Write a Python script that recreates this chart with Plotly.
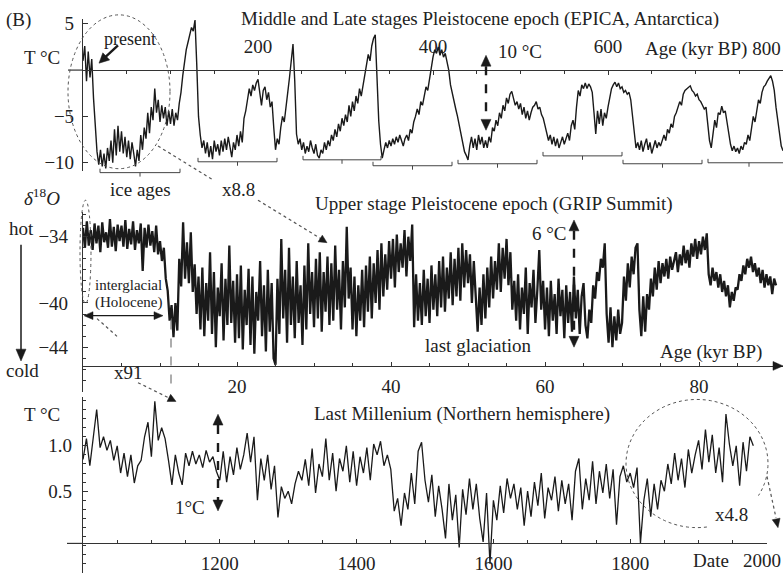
import numpy as np
import plotly.graph_objects as go

W, H = 783, 576
FONT = "Liberation Serif"
INK = "#1a1a1a"
GREY = "#555555"

# ---------------- data ----------------
# EPICA (Antarctica) temperature anomaly, one value every 2 kyr from 0 to 800 kyr BP
EPICA_STEP_KYR = 2
EPICA_T = [
    1.0, 2.6, -1.2, 2.0, -0.8, 1.2, -3.0, -6.4, -8.8, -10.2,
    -8.6, -10.4, -9.0, -10.6, -8.4, -9.8, -7.6, -10.0, -6.4, -9.2,
    -6.0, -8.8, -6.6, -9.0, -7.2, -9.4, -7.6, -9.6, -7.8, -9.0,
    -10.4, -8.6, -9.8, -7.0, -8.6, -6.2, -7.4, -4.6, -6.8, -4.0,
    -5.4, -2.0, -4.6, -3.2, -5.6, -3.8, -5.2, -4.0, -6.0, -4.4,
    -5.8, -4.2, -6.0, -4.6, -5.4, -3.6, -2.4, -0.6, 1.0, 2.2,
    3.0, 3.8, 4.6, 4.2, 5.4, 0.6, -5.0, -7.0, -8.4, -7.6,
    -9.0, -7.8, -9.4, -8.2, -9.6, -7.6, -8.8, -8.0, -9.2, -7.6,
    -8.8, -7.4, -8.6, -7.2, -8.4, -9.4, -7.8, -8.6, -7.0, -8.2,
    -6.6, -7.8, -5.2, -4.4, -3.2, -2.0, -2.8, -1.6, -2.2, -1.4,
    -1.0, -2.6, -3.8, -2.2, -1.8, -3.2, -2.4, -4.0, -3.4, -6.2,
    -8.6, -7.4, -8.0, -6.2, -5.0, -5.6, -3.6, -2.4, -0.8, 1.0,
    2.8, -1.2, -6.9, -8.0, -7.4, -8.6, -7.8, -9.0, -8.2, -8.8,
    -7.6, -8.4, -9.0, -8.0, -9.2, -9.5, -8.6, -9.0, -7.8, -8.6,
    -7.6, -8.2, -7.0, -7.6, -6.4, -7.2, -5.8, -6.6, -5.2, -6.0,
    -4.8, -5.6, -3.8, -5.0, -3.4, -4.4, -2.8, -3.6, -2.0, -2.8,
    -1.6, -0.6, 0.6, 1.7, 1.0, 2.6, 3.4, 3.8, -0.8, -5.5,
    -8.0, -9.5, -8.6, -7.8, -8.4, -7.6, -8.2, -7.4, -8.0, -7.2,
    -7.8, -7.0, -7.6, -8.2, -7.4, -7.0, -7.6, -6.4, -6.8, -5.6,
    -5.0, -4.2, -4.8, -3.4, -3.8, -2.6, -1.8, -2.2, -0.8, 0.4,
    1.4, 2.2, 1.8, 2.5, 1.6, 2.2, 1.4, 1.8, 0.8, 0.0,
    -1.6, -2.6, -3.4, -4.2, -5.0, -6.0, -7.0, -7.8, -8.8, -9.2,
    -9.7, -8.2, -7.2, -8.4, -7.4, -8.6, -7.0, -8.0, -7.2, -8.4,
    -7.6, -8.4, -7.2, -7.8, -6.2, -6.6, -5.4, -6.0, -4.6, -5.2,
    -3.8, -4.4, -3.0, -3.6, -2.6, -2.3, -3.0, -3.8, -3.4, -4.2,
    -3.6, -4.8, -4.0, -5.2, -4.4, -5.4, -4.6, -4.0, -3.8, -3.4,
    -4.2, -4.0, -4.8, -5.2, -6.0, -6.9, -7.6, -7.0, -8.0, -7.2,
    -8.2, -7.4, -8.4, -7.8, -7.2, -8.0, -7.4, -6.8, -7.6, -6.0,
    -5.4, -6.4, -4.0, -2.2, -2.8, -1.6, -2.0, -1.4, -2.0, -1.5,
    -1.8, -2.4, -4.6, -6.9, -4.4, -5.8, -4.2, -6.0, -4.6, -5.2,
    -4.0, -3.0, -2.0, -1.6, -1.3, -1.8, -1.4, -2.0, -1.8, -2.4,
    -2.2, -2.6, -2.4, -3.2, -5.0, -7.0, -8.4, -7.8, -8.6, -7.6,
    -8.8, -8.0, -7.4, -8.6, -7.8, -9.0, -8.2, -7.6, -8.4, -7.8,
    -8.2, -7.6, -7.0, -7.6, -6.4, -6.8, -5.8, -6.2, -5.0, -4.6,
    -4.0, -3.4, -3.8, -2.6, -2.2, -2.0, -1.8, -1.7, -2.2, -2.4,
    -2.8, -2.6, -3.2, -3.4, -3.8, -4.2, -4.0, -5.6, -7.6, -8.4,
    -6.8, -5.4, -6.2, -4.6, -4.8, -3.9, -4.6, -4.4, -5.6, -7.0,
    -8.0, -8.7, -8.2, -8.8, -8.4, -9.0, -8.2, -8.6, -7.8, -8.0,
    -7.0, -7.6, -6.0, -5.0, -5.6, -4.2, -3.2, -3.6, -2.4, -1.8,
    -1.6, -1.2, -0.9, -0.6, -1.2, -2.2, -4.0, -5.6, -7.0, -8.2,
    -8.7,
]

# GRIP Summit delta-18O, one value every 0.25 kyr from 0 to 90 kyr BP
GRIP_STEP_KYR = 0.25
GRIP_D18O = [
    -33.2, -35.0, -32.6, -34.8, -33.4, -35.2, -32.8, -34.6, -33.0, -35.4, -32.7, -34.5, -33.6, -35.0, -32.4, -34.9, -33.1, -35.3, -32.9, -34.4,
    -33.0, -34.9, -32.5, -35.1, -33.3, -34.7, -32.6, -35.2, -33.4, -34.6, -32.8, -37.1, -33.2, -35.0, -32.9, -34.8, -33.5, -35.4, -33.0, -35.6,
    -34.4, -36.2, -35.0, -37.8, -38.9, -41.6, -40.2, -43.1, -40.0, -42.5, -36.0, -38.5, -32.7, -37.8, -34.5, -38.2, -33.6, -39.0, -36.5, -41.0,
    -37.6, -42.4, -36.8, -43.0, -38.2, -41.6, -35.4, -42.8, -37.2, -44.0, -38.6, -41.2, -36.4, -43.4, -37.8, -42.0, -34.8, -41.8, -38.0, -43.6,
    -37.4, -43.2, -36.6, -44.2, -38.8, -42.0, -36.9, -43.8, -37.6, -44.6, -39.0, -41.6, -36.2, -43.0, -38.4, -44.4, -37.0, -42.6, -38.2, -45.0,
    -45.6, -37.8, -42.8, -34.2, -41.4, -37.0, -43.6, -35.0, -42.0, -37.6, -43.2, -36.2, -41.8, -38.4, -43.8, -36.6, -42.4, -34.6, -41.0, -37.2,
    -42.2, -36.0, -41.4, -35.4, -42.6, -37.2, -40.8, -35.8, -42.0, -36.4, -41.6, -34.8, -40.6, -37.0, -42.4, -36.2, -40.4, -33.1, -39.6, -36.8,
    -42.4, -37.6, -43.0, -38.4, -41.6, -37.0, -42.2, -36.6, -40.8, -35.8, -41.4, -36.4, -40.0, -35.2, -40.6, -34.6, -39.4, -35.6, -38.8, -34.4,
    -37.8, -34.2, -38.6, -33.8, -37.2, -34.6, -36.8, -33.4, -37.6, -34.0, -36.2, -32.9, -42.2, -37.4, -41.6, -38.2, -42.0, -37.0, -41.2, -37.8,
    -41.8, -36.6, -40.6, -37.4, -41.2, -36.2, -40.4, -35.8, -40.8, -36.8, -39.6, -35.4, -40.2, -36.0, -39.4, -35.0, -39.8, -34.6, -38.6, -35.2,
    -38.2, -35.6, -40.0, -36.2, -39.4, -42.6, -38.6, -42.0, -37.4, -41.4, -36.8, -40.4, -35.8, -39.6, -36.2, -38.8, -34.6, -39.0, -35.0, -37.8,
    -34.2, -38.4, -35.4, -40.6, -38.0, -41.6, -37.4, -42.4, -38.6, -41.0, -36.8, -42.8, -38.2, -40.4, -37.0, -41.8, -38.8, -35.2, -40.6, -38.0,
    -42.4, -38.6, -43.0, -38.0, -41.6, -39.2, -42.8, -37.8, -41.2, -38.8, -43.2, -38.4, -41.8, -39.0, -42.6, -37.6, -41.4, -38.8, -42.8, -39.4,
    -38.2, -42.0, -43.2, -40.6, -41.8, -38.4, -39.6, -37.2, -38.0, -36.0, -36.8, -34.6, -41.0, -43.6, -40.4, -44.0, -41.2, -43.4, -40.6, -42.8,
    -41.8, -37.6, -39.8, -36.4, -38.6, -35.8, -37.4, -35.0, -34.6, -40.6, -43.0, -39.4, -42.6, -39.2, -40.6, -37.8, -39.4, -36.8, -38.8, -36.2,
    -38.2, -36.4, -37.6, -36.0, -37.8, -35.8, -37.0, -36.2, -35.4, -37.2, -35.6, -36.6, -34.8, -36.4, -35.2, -36.8, -34.6, -35.8, -34.2, -36.0,
    -34.4, -35.6, -34.0, -35.2, -33.7, -37.4, -38.4, -36.8, -38.0, -37.2, -38.6, -37.4, -39.0, -38.0, -39.4, -38.4, -40.4, -39.0, -39.8, -38.6,
    -38.8, -37.4, -38.0, -36.6, -37.4, -36.0, -36.8, -35.8, -37.2, -36.4, -37.6, -36.8, -38.2, -37.0, -38.6, -37.4, -38.4, -37.6, -39.2, -37.8,
    -38.4,
]

# Last millennium, Northern hemisphere temperature, every 5 years from AD 1000
MILL_START_YEAR = 1000
MILL_STEP_YEARS = 5
MILL_T = [
    0.85, 1.08, 0.78, 1.12, 1.40, 0.98, 1.10, 0.95, 1.06, 0.84,
    1.00, 0.70, 0.92, 0.66, 0.90, 0.59, 0.78, 0.84, 1.10, 1.26,
    0.88, 1.49, 1.06, 1.20, 1.08, 0.84, 0.57, 0.90, 0.70, 0.57,
    0.92, 0.78, 0.94, 0.80, 0.90, 0.76, 0.95, 0.82, 0.88, 0.72,
    0.62, 0.94, 0.60, 0.88, 0.68, 0.98, 0.74, 0.90, 1.14, 0.82,
    1.10, 0.40, 0.86, 0.62, 0.90, 0.52, 0.78, 0.21, 0.55, 0.42,
    0.50, 0.36, 0.58, 0.72, 0.62, 0.85, 0.56, 0.97, 0.48, 0.80,
    0.66, 1.08, 0.62, 0.92, 0.50, 0.86, 0.72, 1.00, 0.60, 0.94,
    0.56, 0.88, 0.70, 0.98, 0.62, 1.02, 0.90, 1.05, 0.78, 0.90,
    0.74, 0.28, 0.42, 0.12, 0.48, 0.30, 0.70, 0.36, 0.94, 1.04,
    0.62, 0.38, 0.68, 0.22, 0.56, 0.30, -0.02, 0.58, 0.18, 0.46,
    -0.12, 0.52, 0.24, 0.64, 0.30, 0.58, 0.20, -0.06, 0.48, -0.30,
    0.40, 0.18, 0.56, 0.26, 0.64, 0.42, 0.58, 0.30, 0.54, 0.12,
    0.50, 0.22, 0.60, 0.34, 0.70, 0.20, 0.54, 0.40, 0.66, 0.28,
    0.62, 0.36, 0.58, 0.18, 0.72, 0.86, 0.30, 0.64, 0.40, 0.83,
    0.36, 0.72, 0.48, 0.80, 0.42, 0.74, 0.13, 0.66, 0.78, 0.60,
    0.70, 0.54, 0.76, -0.07, 0.40, 0.64, 0.22, 0.58, 0.30, 0.62,
    0.50, 0.80, 0.58, 0.92, 0.62, 0.86, 0.54, 0.96, 0.70, 0.90,
    1.06, 0.74, 1.18, 0.82, 1.12, 0.70, 0.98, 0.60, 1.35, 1.02,
    0.78, 1.00, 0.56, 1.04, 0.72, 1.10, 1.00,
]

EPICA_XTICKS = [200, 400, 600]
EPICA_YTICKS = [5, -5, -10]
EPICA_YLABELS = ["5", "\u22125", "\u221210"]
GRIP_XTICKS = [20, 40, 60, 80]
GRIP_YTICKS = [-34, -40, -44]
GRIP_YLABELS = ["\u221234", "\u221240", "\u221244"]
MILL_XTICKS = [1200, 1400, 1600, 1800]
MILL_LAST_TICK = 2000
MILL_YTICKS = [1.0, 0.5]
MILL_YLABELS = ["1.0", "0.5"]

epica_age = np.arange(len(EPICA_T)) * EPICA_STEP_KYR
grip_age = np.arange(len(GRIP_D18O)) * GRIP_STEP_KYR
mill_year = MILL_START_YEAR + np.arange(len(MILL_T)) * MILL_STEP_YEARS


# ---------------- helpers (pixel -> paper) ----------------
def PX(x):
    return x / W


def PY(y):
    return 1 - y / H


shapes = []
annotations = []


def line(x0, y0, x1, y1, color=INK, width=1.0, dash="solid"):
    shapes.append(dict(type="line", xref="paper", yref="paper",
                       x0=PX(x0), y0=PY(y0), x1=PX(x1), y1=PY(y1),
                       line=dict(color=color, width=width, dash=dash)))


def head(tx, ty, fx, fy, length=9, half=4.5, color=INK):
    dx, dy = tx - fx, ty - fy
    n = np.hypot(dx, dy)
    ux, uy = dx / n, dy / n
    bx, by = tx - ux * length, ty - uy * length
    p1 = (bx - uy * half, by + ux * half)
    p2 = (bx + uy * half, by - ux * half)
    path = (f"M {PX(tx)},{PY(ty)} L {PX(p1[0])},{PY(p1[1])} "
            f"L {PX(p2[0])},{PY(p2[1])} Z")
    shapes.append(dict(type="path", xref="paper", yref="paper", path=path,
                       fillcolor=color, line=dict(color=color, width=0.5)))


def ellipse(x0, y0, x1, y1, color=GREY, dash="dot", width=1.0):
    shapes.append(dict(type="circle", xref="paper", yref="paper",
                       x0=PX(x0), y0=PY(y1), x1=PX(x1), y1=PY(y0),
                       line=dict(color=color, width=width, dash=dash)))


def text(t, x, y, size=19, xanchor="center", color="#222222"):
    annotations.append(dict(text=t, x=PX(x), y=PY(y), xref="paper", yref="paper",
                            xanchor=xanchor, yanchor="middle", showarrow=False,
                            font=dict(family=FONT, size=size, color=color)))


def bracket(x0, x1, y, drop=4):
    xm = (x0 + x1) / 2
    shapes.append(dict(type="path", xref="paper", yref="paper",
                       path=(f"M {PX(x0)},{PY(y - drop)} L {PX(x0)},{PY(y)} "
                             f"L {PX(x1)},{PY(y)} L {PX(x1)},{PY(y - drop)} "
                             f"M {PX(xm)},{PY(y)} L {PX(xm)},{PY(y + drop)}"),
                       line=dict(color="#444444", width=1.0)))


# ---------------- figure ----------------
fig = go.Figure()
fig.add_trace(go.Scatter(x=epica_age, y=EPICA_T, mode="lines",
                         line=dict(color=INK, width=1.4), xaxis="x", yaxis="y",
                         hoverinfo="skip"))
fig.add_trace(go.Scatter(x=grip_age, y=GRIP_D18O, mode="lines",
                         line=dict(color=INK, width=2.3), xaxis="x2", yaxis="y2",
                         hoverinfo="skip"))
fig.add_trace(go.Scatter(x=mill_year, y=MILL_T, mode="lines",
                         line=dict(color=INK, width=1.3), xaxis="x3", yaxis="y3",
                         hoverinfo="skip"))

tickfont = dict(family=FONT, size=19, color="#222222")
common_x = dict(showgrid=False, zeroline=False, showline=True, linecolor="#333333",
                linewidth=1.2, ticks="inside", ticklen=4, tickcolor="#333333",
                tickfont=tickfont, fixedrange=True)
common_y = dict(showgrid=False, zeroline=False, showline=True, linecolor="#333333",
                linewidth=1.2, ticks="inside", ticklen=5, tickcolor="#333333",
                tickfont=tickfont, tickmode="array", fixedrange=True)

fig.update_layout(
    width=W, height=H, margin=dict(l=0, r=0, t=0, b=0),
    paper_bgcolor="white", plot_bgcolor="rgba(0,0,0,0)", showlegend=False,
    xaxis=dict(common_x, domain=[PX(83), 1.0], range=[0, 800], anchor="free",
               position=PY(66), side="top", tickmode="array", tickvals=EPICA_XTICKS,
               ticklabelstandoff=9,
               minor=dict(tickvals=list(range(50, 800, 50)), ticks="inside",
                          ticklen=3, tickcolor="#333333")),
    yaxis=dict(common_y, domain=[PY(168), PY(14)], range=[-10.85, 5.53], anchor="x",
               tickvals=EPICA_YTICKS, ticktext=EPICA_YLABELS, ticklabelstandoff=4),
    xaxis2=dict(common_x, domain=[PX(83), 1.0], range=[0, 90.9], anchor="free",
                position=PY(366), side="bottom", tickmode="array", tickvals=GRIP_XTICKS,
                ticklabelstandoff=3,
                minor=dict(tickvals=list(range(5, 91, 5)), ticks="inside",
                           ticklen=3, tickcolor="#333333")),
    yaxis2=dict(common_y, domain=[PY(392), PY(210)], range=[-48.02, -31.77],
                anchor="x2", tickvals=GRIP_YTICKS, ticktext=GRIP_YLABELS,
                ticklabelstandoff=10,
                minor=dict(dtick=1, ticks="inside", ticklen=3, tickcolor="#333333")),
    xaxis3=dict(common_x, domain=[PX(83), PX(767)], range=[1000, 2000], anchor="free",
                position=PY(546), side="bottom", tickmode="array", tickvals=MILL_XTICKS,
                ticklabelstandoff=3,
                minor=dict(tickvals=list(range(1050, 2001, 50)), ticks="inside",
                           ticklen=3, tickcolor="#333333")),
    yaxis3=dict(common_y, domain=[0, PY(398)], range=[-0.402, 1.533], anchor="x3",
                tickvals=MILL_YTICKS, ticktext=MILL_YLABELS, ticklabelstandoff=6,
                minor=dict(dtick=0.1, ticks="inside", ticklen=3, tickcolor="#333333")),
)

# ---- panel 1 decorations ----
line(68, 66, 83, 66, color="#333333", width=1.2)
text("(B)", 4, 15, xanchor="left")
text("Middle and Late stages Pleistocene epoch (EPICA, Antarctica)", 480, 14)
text("T \u00b0C", 42, 53)
text("Age (kyr BP) 800", 783, 45, xanchor="right")
text("present", 130, 34, size=18)
line(118, 41, 105, 53, color=INK, width=2.4)
head(99, 59, 118, 41, length=10, half=5)
ellipse(68, 10, 170, 166)
text("ice ages", 140, 187)
text("x8.8", 238, 187)
line(158, 143, 214, 178, color=GREY, dash="dot", width=1.2)
line(258, 198, 321, 237, color=GREY, dash="dot", width=1.2)
head(327, 241, 258, 198, length=8, half=4, color=INK)
for (bx0, bx1, by) in [(100, 180, 170), (198, 277, 159), (303, 381, 157),
                       (373, 452, 163), (458, 537, 161), (543, 622, 153),
                       (623, 702, 161), (708, 790, 160)]:
    bracket(bx0, bx1, by)
text("10 \u00b0C", 520, 47)
line(486, 62, 486, 116, color=INK, width=2.4, dash="dash")
head(486, 51, 486, 70, length=11, half=5)
head(486, 127, 486, 108, length=11, half=5)

# ---- panel 2 decorations ----
text("Upper stage Pleistocene epoch (GRIP Summit)", 494, 202)
text("<i>\u03b4</i><sup>18</sup><i>O</i>", 42, 195)
text("hot", 21, 227)
text("cold", 22, 371)
line(21, 243, 21, 350, color=INK, width=1.5)
head(21, 361, 21, 243, length=12, half=5)
ellipse(80, 198, 91, 303)
text("interglacial", 128, 284, size=15)
text("(Holocene)", 128, 302, size=15)
line(92, 315, 154, 315, color=INK, width=1.3)
head(84, 315, 100, 315, length=9, half=4)
head(163, 315, 147, 315, length=9, half=4)
line(171, 320, 171, 384, color="#777777", width=1.2, dash="dash")
text("x91", 128, 373)
line(97, 318, 117, 336, color=GREY, dash="dot", width=1.2)
line(138, 383, 170, 399, color=GREY, dash="dot", width=1.2)
head(176, 402, 138, 383, length=8, half=4)
text("last glaciation", 478, 345)
text("6 \u00b0C", 549, 232)
line(574, 229, 574, 336, color=INK, width=2.4, dash="dash")
head(574, 218, 574, 236, length=11, half=5)
head(574, 347, 574, 329, length=11, half=5)
text("Age (kyr BP)", 711, 352)
head(783, 366, 770, 366, length=10, half=4.5)

# ---- panel 3 decorations ----
line(67, 546, 83, 546, color="#333333", width=1.2)
text("Last Millenium (Northern hemisphere)", 462, 415)
text("T \u00b0C", 42, 415)
text("1\u00b0C", 190, 510)
line(218, 426, 218, 502, color=INK, width=2.4, dash="dash")
head(218, 415, 218, 433, length=11, half=5)
head(218, 513, 218, 495, length=11, half=5)
cx, cy, rx, ry = 697, 465, 71, 65
th = np.radians(np.linspace(82, 390, 80))
ax_ = cx + rx * np.cos(th)
ay_ = cy + ry * np.sin(th)
arc = "M " + " L ".join(f"{PX(a)},{PY(b)}" for a, b in zip(ax_, ay_))
shapes.append(dict(type="path", xref="paper", yref="paper", path=arc,
                   line=dict(color=GREY, width=1.0, dash="dot")))
line(767, 478, 776, 520, color=GREY, dash="dot", width=1.2)
head(778, 530, 767, 478, length=9, half=4)
text("x4.8", 731, 517)
text("Date", 711, 563)
text(str(MILL_LAST_TICK), 783, 563, xanchor="right")

fig.update_layout(shapes=shapes, annotations=annotations)
fig.write_html("out.html")
